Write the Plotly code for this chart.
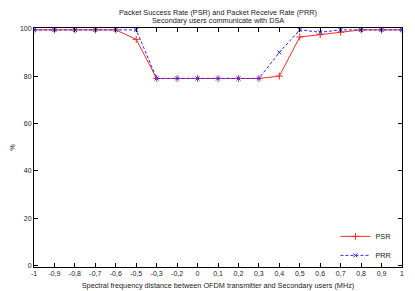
import plotly.graph_objects as go

tick_labels = ["-1", "-0,9", "-0,8", "-0,7", "-0,6", "-0,5", "-0,3", "-0,2", "0",
               "0,1", "0,2", "0,3", "0,4", "0,5", "0,6", "0,7", "0,8", "0,9", "1"]
positions = list(range(len(tick_labels)))
psr = [99.5, 99.5, 99.5, 99.5, 99.5, 95.5, 79, 79, 79, 79, 79, 79, 80, 96.5, 97.5, 98.5, 99.5, 99.5, 99.5]
prr = [99.5, 99.5, 99.5, 99.5, 99.5, 99.5, 79, 79, 79, 79, 79, 79, 90, 99.5, 98.5, 99.5, 99.5, 99.5, 99.5]
y_ticks = [0, 20, 40, 60, 80, 100]
title_lines = ["Packet Success Rate (PSR) and Packet Receive Rate (PRR)",
               "Secondary users communicate with DSA"]

FONT = "Liberation Sans, Arial, sans-serif"

fig = go.Figure()
fig.add_trace(go.Scatter(x=positions, y=psr, name="PSR", mode="lines+markers",
                         line=dict(color="#ff2a2a", width=1),
                         marker=dict(symbol="cross-thin", size=5, color="#ff2a2a",
                                     line=dict(color="#ff2a2a", width=1))))
fig.add_trace(go.Scatter(x=positions, y=prr, name="PRR", mode="lines+markers",
                         line=dict(color="#2a2aff", width=1, dash="3px,2px"),
                         marker=dict(symbol="x-thin", size=4, color="#2a2aff",
                                     line=dict(color="#2a2aff", width=1))))

annotations = []
for text, shift in zip(title_lines, [15.5, 7.5]):
    annotations.append(dict(text=text, xref="paper", yref="paper", x=0.5, y=1,
                            xanchor="center", yanchor="middle", yshift=shift,
                            showarrow=False, font=dict(family=FONT, size=7.3, color="#222")))

fig.update_layout(
    width=407, height=283,
    margin=dict(l=26, r=13, t=20, b=24, autoexpand=False),
    paper_bgcolor="white", plot_bgcolor="white",
    font=dict(family=FONT, size=7.3, color="#222"),
    showlegend=True,
    legend=dict(x=0.985, y=-0.012, xanchor="right", yanchor="bottom",
                bgcolor="rgba(0,0,0,0)", font=dict(size=7.3),
                tracegroupgap=0, itemwidth=30),
    annotations=annotations,
)
fig.update_xaxes(range=[0, 18], tickvals=positions, ticktext=tick_labels, automargin=False,
                 showgrid=False, zeroline=False, showline=True, linecolor="black",
                 linewidth=1, mirror="ticks", ticks="inside", ticklen=4,
                 tickcolor="black", tickfont=dict(size=7),
                 title=dict(text="Spectral frequency distance between OFDM transmitter and Secondary users (MHz)",
                            font=dict(size=7.3), standoff=6))
fig.update_yaxes(range=[-0.6, 100.3], tickvals=y_ticks, automargin=False,
                 showgrid=False, zeroline=False, showline=True, linecolor="black",
                 linewidth=1, mirror="ticks", ticks="inside", ticklen=4,
                 tickcolor="black", tickfont=dict(size=7),
                 title=dict(text="%", font=dict(size=7.3), standoff=8))

fig.write_html("out.html")
